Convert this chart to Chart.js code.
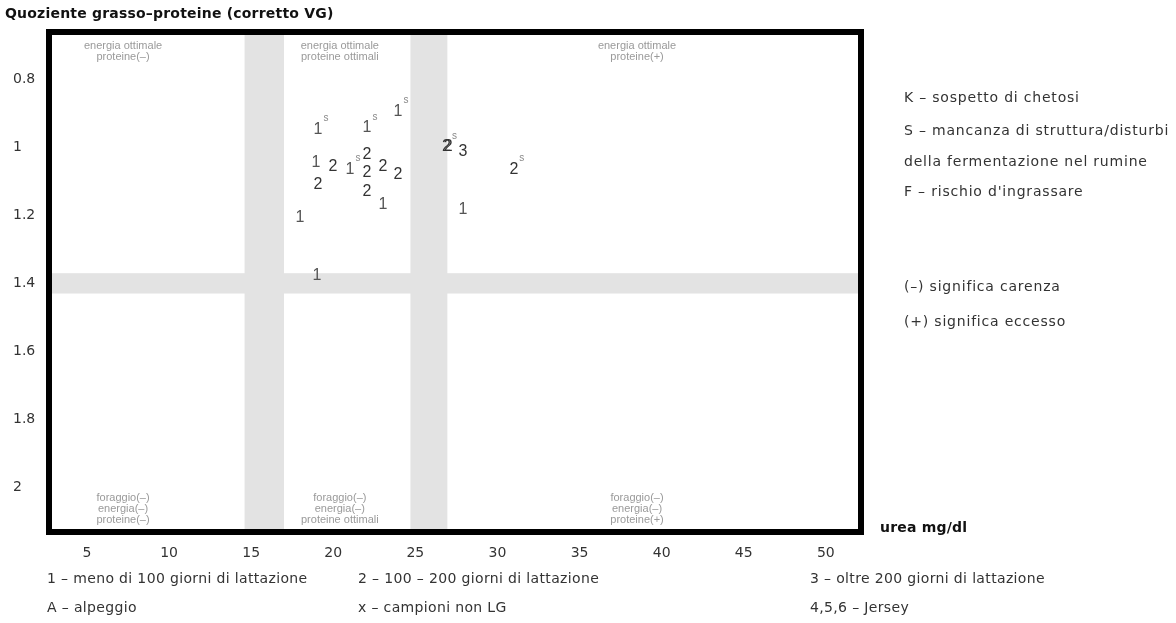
<!DOCTYPE html>
<html>
<head>
<meta charset="utf-8">
<script src="https://cdn.jsdelivr.net/npm/chart.js@4"></script>
<style>
  body { margin: 0; background: #fff; }
  #wrap { position: relative; width: 1176px; height: 623px; }
  .t { position: absolute; white-space: nowrap; font-family: "DejaVu Sans", sans-serif; font-size: 14px; letter-spacing: 0.35px; color: #333; line-height: 16px; }
  .n { letter-spacing: 0.8px; }
  .b { font-weight: bold; color: #111; letter-spacing: 0.2px; }
</style>
</head>
<body>
<div id="wrap">
  <canvas id="c" width="1176" height="623"></canvas>
  <div class="t b" style="left:5px;top:5px;">Quoziente grasso–proteine (corretto VG)</div>
  <div class="t b" style="left:880px;top:519px;">urea mg/dl</div>
  <div class="t n" style="left:904px;top:89px;">K – sospetto di chetosi</div>
  <div class="t n" style="left:904px;top:122px;">S – mancanza di struttura/disturbi</div>
  <div class="t n" style="left:904px;top:153px;">della fermentazione nel rumine</div>
  <div class="t n" style="left:904px;top:183px;">F – rischio d'ingrassare</div>
  <div class="t n" style="left:904px;top:278px;">(–) significa carenza</div>
  <div class="t n" style="left:904px;top:313px;">(+) significa eccesso</div>
  <div class="t" style="left:47px;top:570px;">1 – meno di 100 giorni di lattazione</div>
  <div class="t" style="left:358px;top:570px;">2 – 100 – 200 giorni di lattazione</div>
  <div class="t" style="left:810px;top:570px;">3 – oltre 200 giorni di lattazione</div>
  <div class="t" style="left:47px;top:599px;">A – alpeggio</div>
  <div class="t" style="left:358px;top:599px;">x – campioni non LG</div>
  <div class="t" style="left:810px;top:599px;">4,5,6 – Jersey</div>
</div>
<script>
// valori
const urea = [19.07, 22.05, 23.94, 18.95, 19.07, 19.98, 21.02, 22.05, 22.05, 23.03, 23.94, 22.05, 23.03, 17.97, 26.9, 27.0, 27.9, 31.0, 27.9, 19.01];
const quoziente = [0.947, 0.942, 0.894, 1.045, 1.11, 1.056, 1.065, 1.021, 1.074, 1.056, 1.08, 1.13, 1.168, 1.207, 0.998, 0.998, 1.012, 1.065, 1.183, 1.378];
const gruppo = ['1', '1', '1', '1', '2', '2', '1', '2', '2', '2', '2', '2', '1', '1', '2', '2', '3', '2', '1', '1'];
const sigla = ['s', 's', 's', '', '', '', 's', '', '', '', '', '', '', '', 's', '', '', 's', '', ''];

const xTicks = [5, 10, 15, 20, 25, 30, 35, 40, 45, 50];
const yTicks = [0.8, 1, 1.2, 1.4, 1.6, 1.8, 2];
const yTickLabels = ['0.8', '1', '1.2', '1.4', '1.6', '1.8', '2'];

// fasce grigie
const ureaBands = [[14.6, 17.0], [24.7, 26.95]];
const quozBands = [[1.37, 1.43]];

// etichette delle zone
const zoneX = [7.2, 20.4, 38.5];
const zoneTop = [['energia ottimale', 'proteine(–)'], ['energia ottimale', 'proteine ottimali'], ['energia ottimale', 'proteine(+)']];
const zoneBottom = [['foraggio(–)', 'energia(–)', 'proteine(–)'], ['foraggio(–)', 'energia(–)', 'proteine ottimali'], ['foraggio(–)', 'energia(–)', 'proteine(+)']];

const decor = {
    id: 'decor',
    beforeDatasetsDraw(chart) {
        const ctx = chart.ctx, a = chart.chartArea;
        const xs = chart.scales.x, ys = chart.scales.y;
        ctx.save();
        ctx.fillStyle = '#e3e3e3';
        ureaBands.forEach(b => {
            const x1 = xs.getPixelForValue(b[0]), x2 = xs.getPixelForValue(b[1]);
            ctx.fillRect(x1, a.top, x2 - x1, a.bottom - a.top);
        });
        quozBands.forEach(b => {
            const y1 = ys.getPixelForValue(b[0]), y2 = ys.getPixelForValue(b[1]);
            ctx.fillRect(a.left, y1, a.right - a.left, y2 - y1);
        });
        // testi delle zone
        ctx.fillStyle = '#9a9a9a';
        ctx.font = '11px "Liberation Sans", Arial, sans-serif';
        ctx.textAlign = 'center';
        ctx.textBaseline = 'middle';
        zoneX.forEach((v, i) => {
            const x = xs.getPixelForValue(v);
            zoneTop[i].forEach((s, j) => ctx.fillText(s, x, a.top + 14 + j * 11));
            zoneBottom[i].forEach((s, j) => ctx.fillText(s, x, a.bottom - 34 + j * 11));
        });
        ctx.restore();
    },
    afterDatasetsDraw(chart) {
        const ctx = chart.ctx, a = chart.chartArea;
        const meta = chart.getDatasetMeta(0);
        ctx.save();
        ctx.textAlign = 'center';
        ctx.textBaseline = 'middle';
        meta.data.forEach((pt, i) => {
            ctx.fillStyle = gruppo[i] === '1' ? '#555' : '#333';
            ctx.font = '16px "Liberation Sans", Arial, sans-serif';
            ctx.fillText(gruppo[i], pt.x, pt.y);
            if (sigla[i]) {
                ctx.fillStyle = '#888';
                ctx.font = '10px "Liberation Sans", Arial, sans-serif';
                ctx.fillText(sigla[i], pt.x + 8, pt.y - 11);
            }
        });
        // cornice
        ctx.strokeStyle = '#000';
        ctx.lineWidth = 6;
        ctx.strokeRect(a.left, a.top, a.right - a.left, a.bottom - a.top);
        ctx.restore();
    }
};

new Chart(document.getElementById('c'), {
    type: 'scatter',
    data: {
        datasets: [{
            data: urea.map((u, i) => ({ x: u, y: quoziente[i] })),
            pointRadius: 0,
            pointHoverRadius: 0
        }]
    },
    options: {
        responsive: false,
        animation: false,
        events: [],
        layout: { padding: { left: 13, top: 32, right: 315, bottom: 0 } },
        plugins: { legend: { display: false }, tooltip: { enabled: false } },
        scales: {
            x: {
                type: 'linear',
                min: 2.69,
                max: 52.14,
                bounds: 'data',
                grid: { display: false },
                border: { display: false },
                afterBuildTicks: s => { s.ticks = xTicks.map(v => ({ value: v })); },
                afterFit: s => { s.height = 91; },
                ticks: {
                    padding: 5,
                    color: '#333',
                    font: { family: 'DejaVu Sans', size: 14 },
                    callback: v => String(v)
                }
            },
            y: {
                type: 'linear',
                reverse: true,
                min: 0.659,
                max: 2.133,
                bounds: 'data',
                grid: { display: false },
                border: { display: false },
                afterBuildTicks: s => { s.ticks = yTicks.map(v => ({ value: v })); },
                afterFit: s => { s.width = 36; },
                ticks: {
                    crossAlign: 'far',
                    color: '#333',
                    font: { family: 'DejaVu Sans', size: 14 },
                    callback: (v, i) => yTickLabels[i]
                }
            }
        }
    },
    plugins: [decor]
});
</script>
</body>
</html>
